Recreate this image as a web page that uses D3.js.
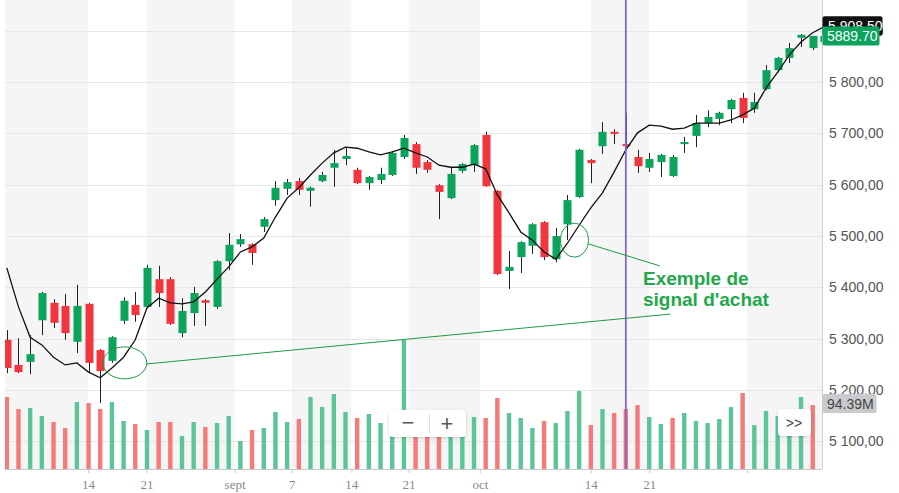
<!DOCTYPE html>
<html><head><meta charset="utf-8">
<script src="https://cdn.jsdelivr.net/npm/d3@7"></script>
<style>body{margin:0;background:#fff;}svg{display:block;}</style>
</head><body>
<script>
// ---- data ----
const opens  = [5298,5249,5255,5336,5370,5364,5294,5368,5278,5257,5335,5366,5362,5416,5416,5311,5350,5375,5362,5451,5484,5484,5518,5570,5592,5607,5588,5607,5633,5650,5629,5603,5609,5619,5654,5679,5644,5599,5574,5627,5638,5697,5588,5432,5459,5481,5527,5455,5523,5576,5648,5675,5703,5679,5654,5633,5644,5617,5679,5695,5720,5728,5747,5769,5747,5786,5823,5847,5886,5866,5878];
const highs  = [5317,5301,5307,5391,5377,5387,5405,5370,5280,5305,5381,5391,5444,5442,5420,5379,5401,5377,5453,5506,5504,5486,5537,5607,5611,5613,5596,5625,5668,5671,5633,5617,5633,5664,5697,5683,5648,5601,5633,5642,5679,5703,5590,5471,5490,5525,5529,5516,5580,5670,5650,5722,5708,5740,5668,5662,5660,5658,5693,5736,5745,5742,5767,5779,5779,5833,5849,5876,5893,5890,5895];
const lows   = [5233,5233,5231,5307,5321,5298,5272,5235,5175,5253,5329,5333,5360,5362,5327,5303,5325,5325,5358,5434,5479,5444,5508,5559,5580,5580,5557,5605,5596,5638,5601,5590,5601,5617,5650,5621,5623,5533,5572,5623,5625,5596,5424,5397,5428,5465,5453,5449,5492,5574,5603,5660,5679,5668,5623,5625,5615,5615,5662,5673,5712,5716,5720,5720,5740,5784,5819,5837,5868,5862,5870];
const closes = [5243,5235,5270,5389,5331,5311,5364,5253,5237,5303,5374,5346,5438,5389,5329,5354,5389,5370,5451,5483,5494,5467,5533,5594,5605,5590,5594,5619,5642,5656,5603,5615,5621,5662,5691,5633,5629,5586,5621,5640,5677,5597,5426,5440,5488,5523,5459,5500,5570,5668,5642,5703,5699,5675,5636,5650,5658,5654,5683,5720,5732,5740,5765,5730,5761,5823,5847,5866,5892,5889.7,5890];
const movingAvg = [5438,5362,5303,5288,5264,5249,5253,5235,5224,5243,5264,5298,5360,5379,5370,5368,5372,5391,5416,5440,5469,5479,5496,5537,5574,5594,5619,5642,5662,5673,5671,5664,5658,5664,5671,5662,5654,5638,5634,5634,5640,5631,5580,5545,5508,5492,5469,5455,5486,5521,5555,5584,5625,5668,5701,5716,5714,5708,5710,5720,5720,5720,5726,5736,5749,5788,5819,5853,5878,5896,5908];
const volumes = [104.6,87.1,88.6,77.0,68.2,59.5,97.3,95.8,87.1,97.3,69.7,65.3,56.6,68.2,68.2,47.9,68.2,61.0,66.8,77.0,40.7,56.6,59.5,82.8,68.2,72.6,104.6,90.0,108.9,82.8,74.1,79.9,66.8,63.9,187.3,74.1,71.1,68.2,63.9,59.5,75.5,74.1,103.1,81.3,74.1,59.5,69.7,66.8,84.2,113.3,63.9,87.1,81.3,87.1,92.9,75.5,65.3,74.1,81.3,69.7,66.8,72.6,90.0,110.4,63.9,84.2,77.0,78.4,104.6,92.9,59.5];
const volumeDir = ["d","d","u","u","d","d","u","d","d","u","u","d","u","d","d","u","u","d","u","u","u","d","u","u","u","d","u","u","u","u","d","u","u","u","u","d","d","d","u","u","u","d","d","u","u","u","d","u","u","u","d","u","d","d","d","u","u","d","u","u","u","u","u","d","u","u","u","u","u","d","u"];
const priceTicks = [5100,5200,5300,5400,5500,5600,5700,5800,5900];
const dateTickPos = [6.95,11.95,19.5,24.4,29.5,34.4,40.5,50.0,55.0,63.4];
const dateTickLabels = ["14","21","sept","7","14","21","oct","14","21",""];
const lastPriceLabel = "5889.70", lastPrice = 5889.70;
const maLabel = "5 908,50", maValue = 5908.5;
const volLabel = "94.39M", volValue = 94.39;
const markerIndex = 53;
const signalCircles = [{i:10.1, p:5253, rx:22, ry:16},{i:48.6, p:5492, rx:14, ry:17}];
const signalLines = [{i1:12.0,p1:5251,i2:56.8,p2:5348},{i1:49.76,p1:5485,i2:55.9,p2:5442}];
const noteText = ["Exemple de","signal d'achat"];
const notePos = {i:54.47, p1:5404, p2:5363};

// ---- setup ----
const W=899,H=493, left=5, right=822, bottom=469;
const svg=d3.select("body").append("svg").attr("width",W).attr("height",H);
const defs=svg.append("defs");
defs.append("clipPath").attr("id","plot").append("rect").attr("x",left).attr("y",0).attr("width",right-left+1).attr("height",bottom);
const sh=defs.append("filter").attr("id","sh").attr("x","-20%").attr("y","-30%").attr("width","140%").attr("height","160%");
sh.append("feDropShadow").attr("dx",0).attr("dy",1).attr("stdDeviation",1.5).attr("flood-color","#000").attr("flood-opacity",0.18);

const x=d3.scaleLinear().domain([0,70]).range([6.8,6.8+11.68*70]);
const y=d3.scaleLinear().domain([5100,5900]).range([441.45,30.65]);
const yv=d3.scaleLinear().domain([0,volValue]).range([bottom,404]);

const up="#0ca35d", down="#f2363f", vUp="#5cc597", vDown="#f57a7a";
const g=svg.append("g").attr("clip-path","url(#plot)");

// bands
const edges=[left,...dateTickPos.map(x),right+1];
for(let k=0;k<edges.length-1;k++){
  if(k%2===0) g.append("rect").attr("x",edges[k]).attr("y",0).attr("width",edges[k+1]-edges[k]).attr("height",bottom).attr("fill","#f5f5f5");
}
// grid
g.selectAll(".gl").data(priceTicks).join("line").attr("x1",left).attr("x2",right)
 .attr("y1",d=>Math.round(y(d))+0.5).attr("y2",d=>Math.round(y(d))+0.5).attr("stroke","#e6e6e6").attr("stroke-width",1.2);

// volume
const idx=d3.range(volumes.length);
g.selectAll(".vb").data(idx).join("rect")
 .attr("x",i=>x(i)-2.2).attr("width",4.4)
 .attr("y",i=>yv(volumes[i])).attr("height",i=>bottom-yv(volumes[i]))
 .attr("fill",i=>volumeDir[i]==="u"?vUp:vDown);

// candles
const cidx=d3.range(opens.length);
g.selectAll(".wk").data(cidx).join("line")
 .attr("x1",i=>Math.round(x(i))+0.5).attr("x2",i=>Math.round(x(i))+0.5)
 .attr("y1",i=>y(highs[i])).attr("y2",i=>y(lows[i]))
 .attr("stroke","#222").attr("stroke-width",1);
g.selectAll(".bd").data(cidx).join("rect")
 .attr("x",i=>Math.round(x(i))+0.5-4).attr("width",8)
 .attr("y",i=>y(Math.max(opens[i],closes[i])))
 .attr("height",i=>Math.max(2,Math.abs(y(opens[i])-y(closes[i]))))
 .attr("fill",i=>closes[i]>=opens[i]?up:down);

// moving average
g.append("path").datum(movingAvg).attr("fill","none").attr("stroke","#111").attr("stroke-width",1.3)
 .attr("d",d3.line().x((d,i)=>x(i)).y(d=>y(d)));

// marker line
g.append("line").attr("x1",x(markerIndex)).attr("x2",x(markerIndex)).attr("y1",0).attr("y2",bottom)
 .attr("stroke","#8466cf").attr("stroke-width",1.8);

// annotations
const ag=svg.append("g");
signalCircles.forEach(c=>ag.append("ellipse").attr("cx",x(c.i)).attr("cy",y(c.p)).attr("rx",c.rx).attr("ry",c.ry)
  .attr("fill","none").attr("stroke","#1e9a45").attr("stroke-width",1));
signalLines.forEach(l=>ag.append("line").attr("x1",x(l.i1)).attr("y1",y(l.p1)).attr("x2",x(l.i2)).attr("y2",y(l.p2))
  .attr("stroke","#1e9a45").attr("stroke-width",1));
[notePos.p1,notePos.p2].forEach((p,k)=>ag.append("text").attr("x",x(notePos.i)).attr("y",y(p))
  .attr("font-family","Liberation Sans, Arial, sans-serif").attr("font-weight","bold").attr("font-size",19)
  .attr("fill","#22a84a").text(noteText[k]));

// axes
svg.append("line").attr("x1",right+0.5).attr("x2",right+0.5).attr("y1",0).attr("y2",bottom).attr("stroke","#cfcfcf");
svg.append("line").attr("x1",left).attr("x2",right).attr("y1",bottom+0.5).attr("y2",bottom+0.5).attr("stroke","#c8c8c8");
const fr=d3.formatLocale({decimal:",",thousands:" ",grouping:[3],currency:["","€"]});
const ya=svg.append("g").attr("transform",`translate(${right},0)`)
 .call(d3.axisRight(y).tickValues(priceTicks).tickSize(0).tickPadding(7).tickFormat(fr.format(",.2f")));
ya.select(".domain").remove();
ya.selectAll("text").attr("font-family","Liberation Sans, Arial, sans-serif").attr("font-size",14).attr("fill","#555");
const xa=svg.append("g").attr("transform",`translate(0,${bottom})`)
 .call(d3.axisBottom(x).tickValues(dateTickPos).tickSize(4).tickPadding(7).tickFormat((d,i)=>dateTickLabels[i]));
xa.select(".domain").remove();
xa.selectAll("line").attr("stroke","#c8c8c8");
xa.selectAll("text").attr("font-family","Liberation Serif, Times New Roman, serif").attr("font-size",13).attr("fill","#8a8a8a");

// price labels
const lab=svg.append("g").attr("font-family","Liberation Sans, Arial, sans-serif").attr("font-size",14);
lab.append("rect").attr("x",right+0.5).attr("y",y(maValue)-10).attr("width",60).attr("height",19).attr("rx",2).attr("fill","#111");
lab.append("text").attr("x",right+6).attr("y",y(maValue)+5).attr("fill","#fff").text(maLabel);
lab.append("rect").attr("x",right+0.5).attr("y",y(lastPrice)-9.5).attr("width",57).attr("height",19).attr("rx",2).attr("fill",up);
lab.append("text").attr("x",right+5).attr("y",y(lastPrice)+5).attr("fill","#fff").text(lastPriceLabel);
lab.append("rect").attr("x",right+0.5).attr("y",yv(volValue)-10).attr("width",54).attr("height",19).attr("rx",2).attr("fill","#c9cacd");
lab.append("text").attr("x",right+5).attr("y",yv(volValue)+5).attr("fill","#444").text(volLabel);

// zoom buttons
const zb=svg.append("g");
zb.append("rect").attr("x",389).attr("y",410).attr("width",77).attr("height",27).attr("rx",4).attr("fill","#fff").attr("filter","url(#sh)");
zb.append("line").attr("x1",429.5).attr("x2",429.5).attr("y1",414).attr("y2",433).attr("stroke","#ddd");
zb.append("text").attr("x",408).attr("y",430).attr("text-anchor","middle").attr("font-family","Liberation Sans, Arial, sans-serif").attr("font-size",22).attr("fill","#555").text("−");
zb.append("text").attr("x",447).attr("y",431).attr("text-anchor","middle").attr("font-family","Liberation Sans, Arial, sans-serif").attr("font-size",22).attr("fill","#555").text("+");
zb.append("rect").attr("x",778).attr("y",409).attr("width",33).attr("height",27).attr("rx",4).attr("fill","#fff").attr("filter","url(#sh)");
zb.append("text").attr("x",794).attr("y",428).attr("text-anchor","middle").attr("font-family","Liberation Sans, Arial, sans-serif").attr("font-size",14).attr("fill","#444").text(">>");
</script>
</body></html>
